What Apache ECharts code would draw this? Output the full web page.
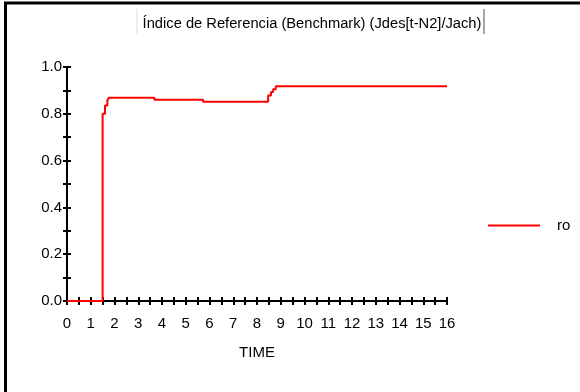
<!DOCTYPE html>
<html>
<head>
<meta charset="utf-8">
<script src="https://cdn.jsdelivr.net/npm/echarts@6/dist/echarts.min.js"></script>
<style>html,body{margin:0;padding:0;background:#fff}#c{width:580px;height:392px}</style>
</head>
<body>
<div id="c"></div>
<script>
var titleText = 'Índice de Referencia (Benchmark) (Jdes[t-N2]/Jach)';
var seriesName = 'ro';
var xName = 'TIME';
var time = [0, 1.5, 1.6, 1.7, 1.76, 3.68, 5.73, 8.47, 8.59, 8.68, 8.79, 16];
var ro   = [0, 0.80, 0.835, 0.857, 0.869, 0.860, 0.851, 0.878, 0.893, 0.905, 0.918, 0.918];

var chart = echarts.init(document.getElementById('c'), null, {renderer: 'canvas'});
var font = 'Liberation Sans, Arial, sans-serif';
var data = time.map(function (t, i) { return [t, ro[i]]; });

var xCommon = {
  type: 'value', min: 0, max: 16, interval: 0.5, position: 'bottom',
  splitLine: {show: false},
  axisLine: {show: true, onZero: false, lineStyle: {color: '#000', width: 2}}
};
var yCommon = {
  type: 'value', min: 0, max: 1, interval: 0.1, position: 'left',
  splitLine: {show: false},
  axisLine: {show: true, onZero: false, lineStyle: {color: '#000', width: 2}}
};

chart.setOption({
  animation: false,
  title: {
    text: titleText, left: 307, top: 11, textAlign: 'center',
    textStyle: {fontFamily: font, fontSize: 14.7, fontWeight: 'normal', color: '#000'}
  },
  grid: {left: 67, right: 133, top: 67, bottom: 91, containLabel: false},
  legend: {
    left: 488, top: 218, padding: 0, icon: 'rect', itemWidth: 52, itemHeight: 2,
    data: [seriesName],
    textStyle: {fontFamily: font, fontSize: 15, color: '#000', padding: [16, 0, 0, 12]}
  },
  xAxis: [
    Object.assign({}, xCommon, {
      name: xName, nameLocation: 'middle', nameGap: 44,
      nameTextStyle: {fontFamily: font, fontSize: 15, color: '#000'},
      axisTick: {show: true, inside: false, length: 4, lineStyle: {color: '#000', width: 2}},
      axisLabel: {
        margin: 15, fontFamily: font, fontSize: 15, color: '#000',
        formatter: function (v) { return Math.abs(v - Math.round(v)) < 1e-6 ? String(Math.round(v)) : ''; }
      }
    }),
    Object.assign({}, xCommon, {
      axisTick: {show: true, inside: true, length: 4, lineStyle: {color: '#000', width: 2}},
      axisLabel: {show: false}
    })
  ],
  yAxis: [
    Object.assign({}, yCommon, {
      axisTick: {show: true, inside: false, length: 4, lineStyle: {color: '#000', width: 2}},
      axisLabel: {
        margin: 5, fontFamily: font, fontSize: 15, color: '#000',
        formatter: function (v) { var k = Math.round(v * 10); return k % 2 === 0 ? (k / 10).toFixed(1) : ''; }
      }
    }),
    Object.assign({}, yCommon, {
      axisTick: {show: true, inside: true, length: 4, lineStyle: {color: '#000', width: 2}},
      axisLabel: {show: false}
    })
  ],
  graphic: [
    {type: 'line', shape: {x1: 5.5, y1: 3, x2: 5.5, y2: 392}, style: {stroke: '#000', lineWidth: 3}},
    {type: 'line', shape: {x1: 4, y1: 3, x2: 580, y2: 3}, style: {stroke: '#000', lineWidth: 3}},
    {type: 'line', shape: {x1: 137, y1: 9, x2: 137, y2: 34}, style: {stroke: '#ddd', lineWidth: 1}},
    {type: 'line', shape: {x1: 484, y1: 9, x2: 484, y2: 34}, style: {stroke: '#888', lineWidth: 1.5}}
  ],
  series: [{
    name: seriesName, type: 'line', step: 'end', data: data,
    xAxisIndex: 0, yAxisIndex: 0,
    showSymbol: false, symbol: 'none',
    lineStyle: {color: '#ff0000', width: 2},
    itemStyle: {color: '#ff0000'}
  }]
});
</script>
</body>
</html>
